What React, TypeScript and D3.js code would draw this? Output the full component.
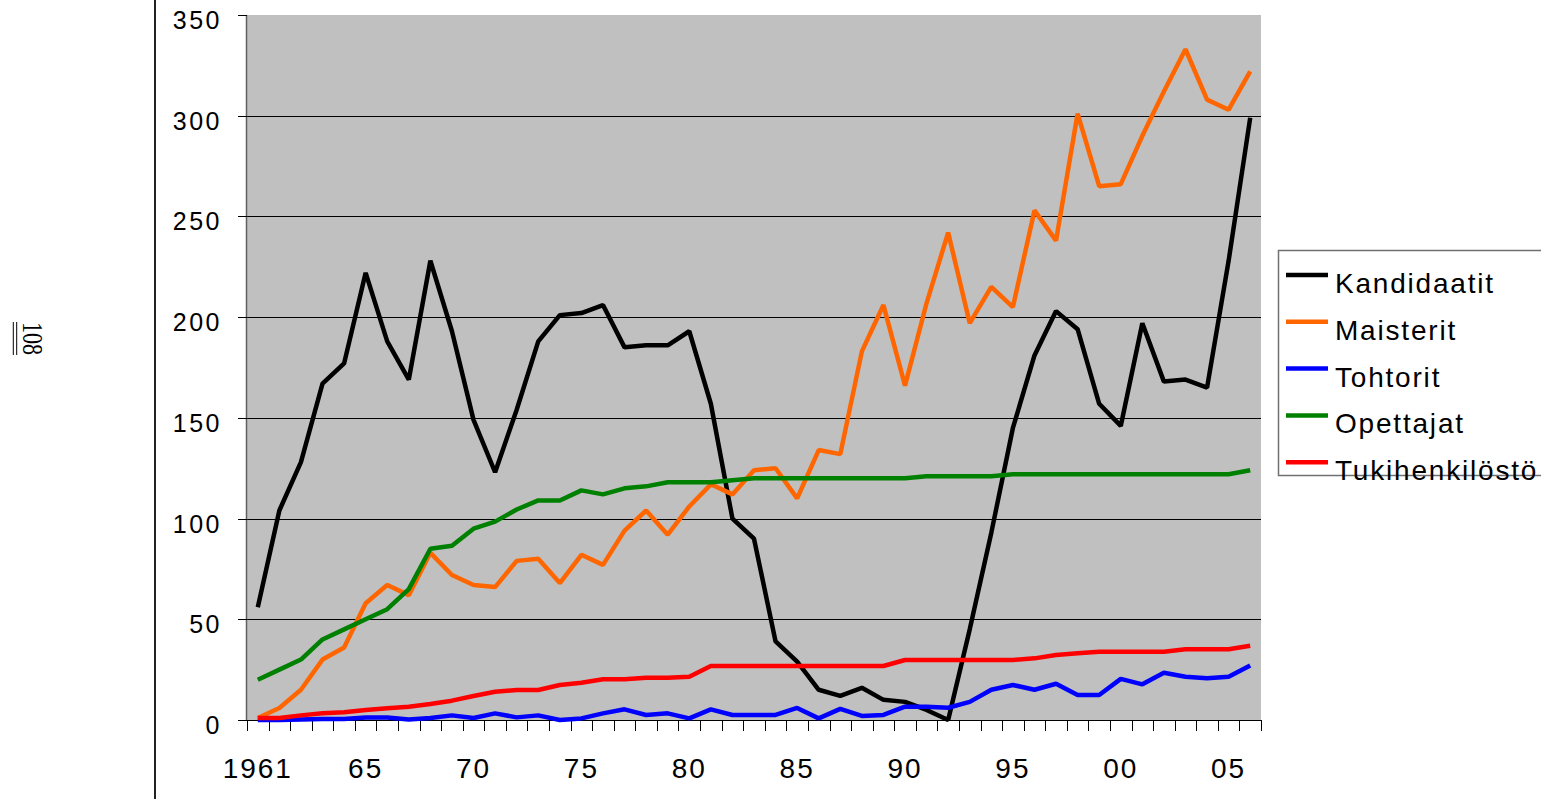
import React, { useEffect, useRef } from "react";
import * as d3 from "d3";

// values per year (47 points)
const kandidaatit = [
  56, 104, 128, 167, 177, 222, 188, 169, 228, 193, 149, 123, 154, 188, 201, 202,
  206, 185, 186, 186, 193, 157, 100, 90, 39, 29, 15, 12, 16, 10, 9, 5, 0, 45, 93,
  145, 181, 203, 194, 157, 146, 197, 168, 169, 165, 228, 299,
];
const maisterit = [
  1, 6, 15, 30, 36, 58, 67, 62, 83, 72, 67, 66, 79, 80, 68, 82, 77, 94, 104, 92,
  106, 117, 112, 124, 125, 110, 134, 132, 183, 206, 166, 207, 242, 197, 215, 205,
  253, 238, 301, 265, 266, 290, 312, 333, 308, 303, 322,
];
const tohtorit = [
  0, 0, 0.3, 0.5, 0.5, 1.2, 1.2, 0.3, 1, 2.3, 1, 3.3, 1.3, 2.3, 0, 0.8, 3.3, 5.3,
  2.5, 3.3, 0.8, 5.3, 2.5, 2.5, 2.5, 6, 0.8, 5.5, 2, 2.5, 6.6, 6.6, 6.1, 9, 15,
  17.4, 15, 18, 12.4, 12.4, 20.4, 17.7, 23.5, 21.5, 20.7, 21.5, 27,
];
const opettajat = [
  20, 25, 30, 40, 45, 50, 55, 65, 85, 86.5, 95, 98.5, 104.5, 109, 109, 114, 112,
  115, 116, 118, 118, 118, 119, 120, 120, 120, 120, 120, 120, 120, 120, 121, 121,
  121, 121, 122, 122, 122, 122, 122, 122, 122, 122, 122, 122, 122, 124,
];
const tukihenkilosto = [
  1, 1, 2.3, 3.3, 3.8, 5, 5.8, 6.6, 7.9, 9.6, 11.9, 14, 14.9, 14.9, 17.4, 18.5,
  20.2, 20.2, 21, 21, 21.5, 26.8, 26.8, 26.8, 26.8, 26.8, 26.8, 26.8, 26.8, 26.8,
  29.8, 29.8, 29.8, 29.8, 29.8, 29.8, 30.6, 32.3, 33.1, 33.9, 33.9, 33.9, 33.9,
  35.1, 35.1, 35.1, 36.9,
];

const seriesNames = ["Kandidaatit", "Maisterit", "Tohtorit", "Opettajat", "Tukihenkilöstö"];
const seriesColors = ["#000000", "#ff6600", "#0000ff", "#008000", "#ff0000"];
const seriesValues = [kandidaatit, maisterit, tohtorit, opettajat, tukihenkilosto];

// x tick labels, one every 5th category
const xTickLabels = ["1961", "65", "70", "75", "80", "85", "90", "95", "00", "05"];
const yTicks = [0, 50, 100, 150, 200, 250, 300, 350];

const W = 1541;
const H = 799;
const plot = { left: 247, right: 1261, top: 15, bottom: 720 };
const FONT = "'Liberation Sans', Arial, sans-serif";

const App = () => {
  const ref = useRef<SVGSVGElement>(null);

  useEffect(() => {
    const svg = d3.select(ref.current);
    svg.selectAll("*").remove();

    const n = kandidaatit.length;
    const x = d3
      .scaleBand<number>()
      .domain(d3.range(n))
      .range([plot.left, plot.right]);
    const y = d3.scaleLinear().domain([0, 350]).range([plot.bottom, plot.top]);
    const cx = (i: number) => (x(i) as number) + x.bandwidth() / 2;

    // page margin line and page number
    svg
      .append("line")
      .attr("x1", 155)
      .attr("x2", 155)
      .attr("y1", 0)
      .attr("y2", H)
      .attr("stroke", "#222")
      .attr("stroke-width", 2);

    const pg = svg.append("g").attr("transform", "translate(23,322) rotate(90)");
    pg.append("text")
      .attr("x", 0)
      .attr("y", 0)
      .attr("font-family", "'Liberation Serif', 'Times New Roman', serif")
      .attr("font-size", 22)
      .attr("transform", "scale(1,1.3)")
      .text("108");
    [6.3, 9.7].forEach((d) =>
      pg
        .append("line")
        .attr("x1", 0)
        .attr("x2", 33)
        .attr("y1", d)
        .attr("y2", d)
        .attr("stroke", "#000")
        .attr("stroke-width", 1)
    );

    // plot background
    svg
      .append("rect")
      .attr("x", plot.left)
      .attr("y", plot.top)
      .attr("width", plot.right - plot.left)
      .attr("height", plot.bottom - plot.top)
      .attr("fill", "#c0c0c0");

    // gridlines
    svg
      .append("g")
      .selectAll("line")
      .data(yTicks.filter((t) => t > 0 && t < 350))
      .join("line")
      .attr("x1", plot.left)
      .attr("x2", plot.right)
      .attr("y1", (d) => Math.round(y(d)) + 0.5)
      .attr("y2", (d) => Math.round(y(d)) + 0.5)
      .attr("stroke", "#000")
      .attr("stroke-width", 1);

    // y axis
    svg
      .append("line")
      .attr("x1", plot.left - 0.5)
      .attr("x2", plot.left - 0.5)
      .attr("y1", plot.top)
      .attr("y2", plot.bottom)
      .attr("stroke", "#606060")
      .attr("stroke-width", 1.5);
    const yAxis = svg.append("g");
    yAxis
      .selectAll("line")
      .data(yTicks)
      .join("line")
      .attr("x1", plot.left - 9)
      .attr("x2", plot.left)
      .attr("y1", (d) => Math.round(y(d)) + 0.5)
      .attr("y2", (d) => Math.round(y(d)) + 0.5)
      .attr("stroke", "#000");
    yAxis
      .selectAll("text")
      .data(yTicks)
      .join("text")
      .attr("x", 222)
      .attr("y", (d) => y(d) + 14)
      .attr("text-anchor", "end")
      .attr("font-family", FONT)
      .attr("font-size", 25)
      .attr("letter-spacing", 2.5)
      .text((d) => String(d));

    // x axis
    svg
      .append("line")
      .attr("x1", plot.left)
      .attr("x2", plot.right)
      .attr("y1", plot.bottom + 0.5)
      .attr("y2", plot.bottom + 0.5)
      .attr("stroke", "#000");
    const xAxis = svg.append("g");
    xAxis
      .selectAll("line")
      .data(d3.range(n + 1))
      .join("line")
      .attr("x1", (i) => Math.round(plot.left + i * x.bandwidth()) + 0.5)
      .attr("x2", (i) => Math.round(plot.left + i * x.bandwidth()) + 0.5)
      .attr("y1", plot.bottom)
      .attr("y2", plot.bottom + 11)
      .attr("stroke", "#000");
    xAxis
      .selectAll("text")
      .data(xTickLabels)
      .join("text")
      .attr("x", (_, k) => cx(k * 5))
      .attr("y", 778)
      .attr("text-anchor", "middle")
      .attr("font-family", FONT)
      .attr("font-size", 28)
      .attr("letter-spacing", 2)
      .text((d) => d);

    // series lines
    const line = d3
      .line<number>()
      .x((_, i) => cx(i))
      .y((d) => y(d));
    svg
      .append("g")
      .selectAll("path")
      .data(seriesValues)
      .join("path")
      .attr("d", (d) => line(d))
      .attr("fill", "none")
      .attr("stroke", (_, i) => seriesColors[i])
      .attr("stroke-width", 4.5)
      .attr("stroke-linejoin", "bevel");

    // legend
    const lg = svg.append("g");
    lg.append("rect")
      .attr("x", 1278.5)
      .attr("y", 250.5)
      .attr("width", 300)
      .attr("height", 225)
      .attr("fill", "#fff")
      .attr("stroke", "#707070")
      .attr("stroke-width", 1.5);
    const item = lg
      .selectAll("g")
      .data(seriesNames)
      .join("g")
      .attr("transform", (_, i) => `translate(0, ${275 + i * 46.8})`);
    item
      .append("line")
      .attr("x1", 1286)
      .attr("x2", 1328)
      .attr("stroke", (_, i) => seriesColors[i])
      .attr("stroke-width", 4.5);
    item
      .append("text")
      .attr("x", 1335)
      .attr("y", 18)
      .attr("font-family", FONT)
      .attr("font-size", 28)
      .attr("letter-spacing", 1.8)
      .text((d) => d);
  }, []);

  return (
    <svg
      ref={ref}
      width={W}
      height={H}
      style={{ position: "absolute", left: 0, top: 0, display: "block", background: "#fff" }}
    />
  );
};

export default App;
